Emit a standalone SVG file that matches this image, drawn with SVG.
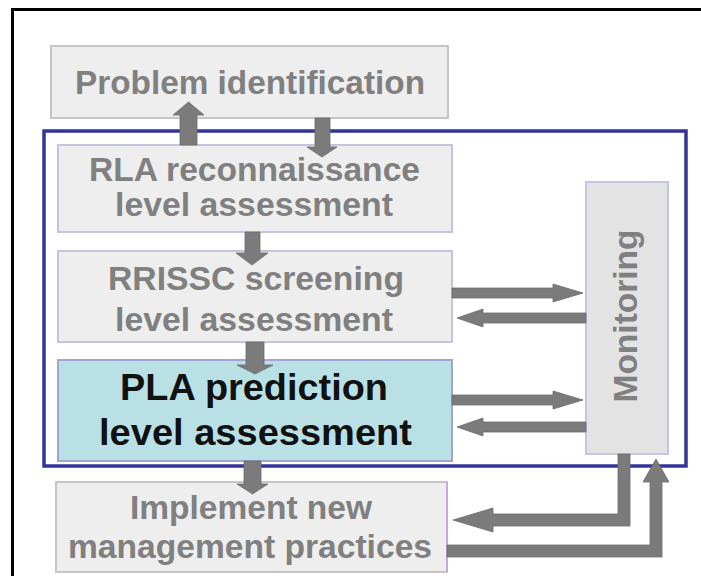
<svg xmlns="http://www.w3.org/2000/svg" width="701" height="576" viewBox="0 0 701 576">
<style>
.t{font-family:"Liberation Sans",Arial,sans-serif;font-weight:bold;font-size:33.5px;fill:#808080;text-anchor:middle}
.tb{font-family:"Liberation Sans",Arial,sans-serif;font-weight:bold;font-size:37.5px;fill:#111111;text-anchor:middle}
.box{fill:#eeeeee;stroke:#c4c4e0;stroke-width:2}
.arr{fill:#7b7b7b;stroke:#6c6c6c;stroke-width:0.8;stroke-linejoin:miter}
</style>
<rect x="0" y="0" width="701" height="576" fill="#ffffff"/>
<path d="M12.5,576 V9.5 H701" fill="none" stroke="#000000" stroke-width="3"/>

<g id="problem">
<rect x="51" y="46" width="397" height="72" fill="#eeeeee" stroke="#c6c6c6" stroke-width="2"/>
<text class="t" x="250" y="94" textLength="350" lengthAdjust="spacingAndGlyphs">Problem identification</text>
</g>

<g id="frame">
<rect x="44" y="131" width="642" height="335" fill="none" stroke="#33339a" stroke-width="3.5"/>
</g>

<g id="rla">
<rect class="box" x="58" y="145" width="394" height="87"/>
<text class="t" x="254.5" y="181" textLength="331" lengthAdjust="spacingAndGlyphs">RLA reconnaissance</text>
<text class="t" x="254" y="216" textLength="278" lengthAdjust="spacingAndGlyphs">level assessment</text>
</g>

<g id="rrissc">
<rect class="box" x="58" y="251" width="394" height="91"/>
<text class="t" x="256" y="290" textLength="296" lengthAdjust="spacingAndGlyphs">RRISSC screening</text>
<text class="t" x="254" y="331" textLength="278" lengthAdjust="spacingAndGlyphs">level assessment</text>
</g>

<g id="pla">
<rect x="58" y="360" width="394" height="101" fill="#b9e1e5" stroke="#a2a4d4" stroke-width="2"/>
<text class="tb" x="254" y="400" textLength="268" lengthAdjust="spacingAndGlyphs">PLA prediction</text>
<text class="tb" x="255.5" y="445" textLength="313" lengthAdjust="spacingAndGlyphs">level assessment</text>
</g>

<g id="implement">
<rect x="56" y="482" width="391" height="90" fill="#eeeeee" stroke="#c6c6c6" stroke-width="2"/>
<line x1="447" y1="482" x2="447" y2="572" stroke="#c8a6e0" stroke-width="2"/>
<text class="t" x="251" y="519" textLength="242" lengthAdjust="spacingAndGlyphs">Implement new</text>
<text class="t" x="250" y="558" textLength="364" lengthAdjust="spacingAndGlyphs">management practices</text>
</g>

<g id="monitoring">
<rect x="586" y="182" width="82" height="272" fill="#e3e3e3" stroke="#c4c4e4" stroke-width="2"/>
<text class="t" transform="translate(637,316) rotate(-90)" x="0" y="0" textLength="173" lengthAdjust="spacingAndGlyphs">Monitoring</text>
</g>

<g id="connectors">
<polygon class="arr" points="180,145 180,115 173,115 188.5,102 204,115 197,115 197,145"/>
<polygon class="arr" points="315,118 330,118 330,147 337,147 322,157 307,147 315,147"/>
<polygon class="arr" points="245,232 260,232 260,253 268,253 252,265 236,253 245,253"/>
<polygon class="arr" points="246,342 264,342 264,365 273,365 255,374 237,365 246,365"/>
<polygon class="arr" points="244,461 261,461 261,484 268,484 252.5,494 237,484 244,484"/>
<polygon class="arr" points="452,288 553,288 553,284 583,293 553,302 553,298 452,298"/>
<polygon class="arr" points="586,313 483,313 483,309 457,318 483,327 483,323 586,323"/>
<polygon class="arr" points="452,395 553,395 553,391 583,400 553,409 553,405 452,405"/>
<polygon class="arr" points="586,422 483,422 483,418 457,427 483,436 483,432 586,432"/>
<polygon class="arr" points="618,454 630,454 630,526 493,526 493,532 453,520 493,508 493,514 618,514"/>
<polygon class="arr" points="447,545 650,545 650,482 643,482 656,459 669,482 662,482 662,557 447,557"/>
</g>
</svg>
